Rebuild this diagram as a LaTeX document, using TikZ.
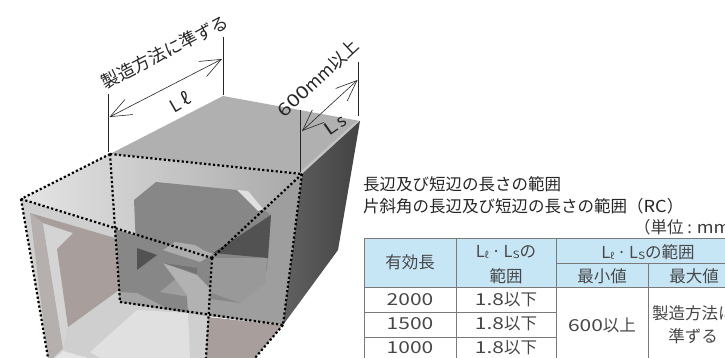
\documentclass[tikz,border=0pt]{standalone}
\usepackage{fontspec}
\setmainfont{Noto Sans CJK JP}
\usetikzlibrary{arrows.meta}
\definecolor{hdr}{HTML}{C6E6F6}
\definecolor{tline}{HTML}{7A7A7A}
\definecolor{wall}{HTML}{A89F9C}
\definecolor{wallb}{HTML}{B5AFAE}
\newcommand{\dg}[1]{\scalebox{1.27}[1]{#1}}
\newcommand{\lsub}{L\raisebox{-1.5pt}{\fontsize{9}{9}\selectfont ℓ}\,·\,L\raisebox{-1.5pt}{\fontsize{10}{10}\selectfont \scalebox{1.2}[1]{S}}}
\tikzset{
 dots/.style={line width=2.2pt,dash pattern=on 2.2pt off 2.3pt,black},
 dimline/.style={line width=.6pt,black!85},
 dimarrow/.style={line width=.6pt,black!85,{Straight Barb[length=21pt,width=17pt,line width=.6pt]}-{Straight Barb[length=21pt,width=17pt,line width=.6pt]}},
 cell/.style={font=\fontsize{16.5}{18}\selectfont,text=black!72,anchor=center,inner sep=0pt},
 title/.style={font=\fontsize{16.5}{18}\selectfont,text=black!85,anchor=west,inner sep=0pt},
 rot/.style={font=\fontsize{17.5}{19}\selectfont,text=black!85,inner sep=0pt},
}
\begin{document}
\begin{tikzpicture}[x=1pt,y=-1pt]
\useasboundingbox (0,0) rectangle (725,358);
\clip (0,0) rectangle (725,358);
\fill[white] (0,0) rectangle (725,358);
% box corners
\coordinate (bl) at (110,154);
\coordinate (bk) at (223,96);
\coordinate (br) at (360,121);
\coordinate (tf) at (302,174);
\coordinate (fl) at (21,199);
\coordinate (fm) at (212,258);
\coordinate (lo) at (120,302);
\coordinate (mo) at (283,325);
% top face
\fill[black!31] (bl)--(bk)--(br)--(tf)--cycle;
\fill[black!23] (tf)--(br)--(355,122.5)--(300,172)--cycle;
% right face
\shade[left color=black!62,right color=black!74] (br)--(tf)--(mo)--(338,250)--cycle;
% front-top (translucent) face
\shade[left color=black!10,right color=black!34] (fl)--(bl)--(tf)--(fm)--cycle;
% rear rectangle
\fill[black!38] (fm)--(tf)--(mo)--(208,316)--cycle;
% lower front
\fill[black!19] (fl)--(fm)--(207,358)--(48,358)--cycle;
\fill[black!47] (115,229)--(fm)--(208,316)--(120,302)--cycle;
\fill[wall] (208,317)--(mo)--(255,358)--(206,358)--cycle;
% left wall of the opening
\fill[wallb] (30,213)--(43,223)--(63,348)--(53,358)--(48,358)--cycle;
\fill[black!17] (43,223)--(73,233)--(57,249)--(68,327)--(63,348)--cycle;
\fill[wall] (30,213)--(115,238)--(119,290)--(68,327)--(57,249)--(73,233)--(43,223)--cycle;
\fill[black!12] (90,352)--(137,310)--(188,313)--(190,358)--(100,358)--cycle;
\fill[black!10] (55,358)--(63,351)--(88,358)--cycle;
% see-through shapes
\fill[black!47] (134,200)--(156,182)--(237,190)--(271,215)--(267,270)--(240,303)--(160,292)--(137,270)--cycle;
\fill[black!68] (213,253)--(271,215)--(268,258)--cycle;
\fill[black!12] (237,190)--(248,191)--(263,209)--(258,211)--cycle;
\fill[black!40] (211,258)--(267,258)--(265,283)--(240,303)--(209,292)--cycle;
\fill[black!68] (137,248)--(157,255)--(137,270)--cycle;
\fill[black!32] (163,250)--(175,242)--(195,245)--(203,250)--(213,254)--(200,262)--cycle;
\fill[black!38] (160,292)--(187,270)--(190,297)--cycle;
\fill[black!30] (163,263)--(187,295)--(188,313)--(208,316)--(211,290)--(197,275)--cycle;
\fill[black!55] (163,263)--(197,268)--(197,274)--(176,267)--cycle;
\fill[black!36] (119,292)--(137,293)--(147,298)--(170,310)--(188,313)--(120,302)--cycle;
% dotted edges
\draw[dots] (bl)--(tf);
\draw[dots] (bl)--(fl);
\draw[dots] (bl)--(lo);
\draw[dots] (lo)--(mo);
\draw[dots] (tf)--(mo);
\draw[dots] (tf)--(fm);
\draw[dots] (fl)--(fm);
\draw[dots] (fl)--(48,358);
\draw[dots] (fm)--(206,358);
\draw[dots] (mo)--(255,358);
% dimensions
\coordinate (a1) at (108.5,94);
\coordinate (a2) at (108.5,152);
\coordinate (b1) at (223,37);
\coordinate (b2) at (223,95);
\coordinate (c1) at (300.5,110);
\coordinate (c2) at (300.5,172);
\coordinate (d1) at (358.5,62);
\coordinate (d2) at (358.5,116);
\coordinate (la) at (109.5,117);
\coordinate (lb) at (222,59);
\coordinate (lc) at (302,131);
\coordinate (ld) at (357.5,80);
\draw[dimline] (a1)--(a2);
\draw[dimline] (b1)--(b2);
\draw[dimline] (c1)--(c2);
\draw[dimline] (d1)--(d2);
\draw[dimarrow] (la)--(lb);
\draw[dimarrow] (lc)--(ld);
\node[rot,rotate=27] (t1) at (165,52) {製造方法に準ずる};
\node[rot,rotate=43] (t2) at (318,78) {\dg{600}mm以上};
\node[rot,rotate=30] (t3) at (180,102) {L ℓ};
\node[rot,rotate=35] (t4) at (335,125) {\dg{L}\,s};
% titles
\node[title] (h1) at (363,184) {長辺及び短辺の長さの範囲};
\node[title] (h2) at (363,206) {片斜角の長辺及び短辺の長さの範囲（\scalebox{1.1}[1]{RC}）};
\node[title,text=black!78] (h3) at (634,227) {（単位 : \scalebox{1.1}[1]{mm}};
% table
\fill[hdr] (364,238) rectangle (725,287);
\draw[tline,line width=1pt] (364,238)--(725,238);
\draw[tline,line width=1pt] (556,263)--(725,263);
\draw[tline,line width=1pt] (364,287)--(725,287);
\draw[tline,line width=1pt] (364,312)--(556,312);
\draw[tline,line width=1pt] (364,337)--(556,337);
\draw[tline,line width=1pt] (364,238)--(364,358);
\draw[tline,line width=1pt] (456,238)--(456,358);
\draw[tline,line width=1pt] (556,238)--(556,358);
\draw[tline,line width=1pt] (648,263)--(648,358);
\node[cell] (c11) at (410,262) {有効長};
\node[cell] (c12) at (506,252) {\lsub の};
\node[cell] (c13) at (506,276) {範囲};
\node[cell] (c14) at (648,252) {\lsub の範囲};
\node[cell] (c15) at (602,276) {最小値};
\node[cell] (c16) at (694,276) {最大値};
\node[cell] (r1a) at (410,300) {\dg{2000}};
\node[cell] (r2a) at (410,324) {\dg{1500}};
\node[cell] (r3a) at (410,348) {\dg{1000}};
\node[cell] (r1b) at (506,300) {\dg{1.8}以下};
\node[cell] (r2b) at (506,324) {\dg{1.8}以下};
\node[cell] (r3b) at (506,348) {\dg{1.8}以下};
\node[cell] (m) at (602,325) {\dg{600}以上};
\node[cell,anchor=west] (x1) at (652,313) {製造方法に};
\node[cell] (x2) at (693,336) {準ずる};
\end{tikzpicture}
\end{document}
